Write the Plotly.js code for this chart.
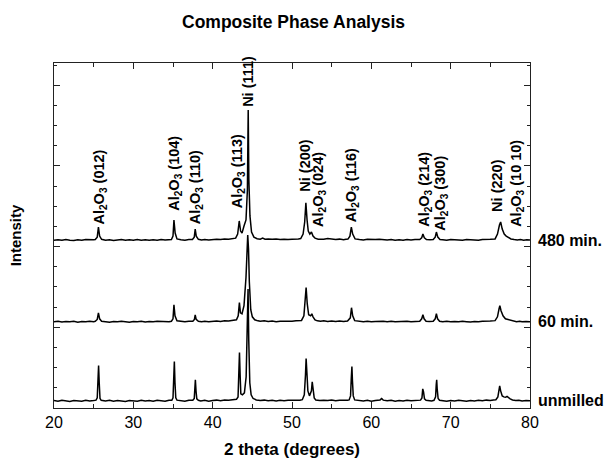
<!DOCTYPE html>
<html>
<head>
<meta charset="utf-8">
<script src="https://cdn.plot.ly/plotly-3.0.1.min.js"></script>
<style>html,body{margin:0;padding:0;background:#fff}#chart{width:609px;height:460px}</style>
</head>
<body>
<div id="chart"></div>
<script>
// 2-theta / relative intensity pairs (intensity above own baseline)
const unmilled = [[20,0.02],[20.5,-0.02],[21,0.03],[21.5,0.0],[22,-0.03],[22.5,0.02],[23,0.01],[23.5,-0.02],[24,0.03],[24.5,0.0],[25,0.02],
[25.3,0.04],[25.45,0.15],[25.55,1.2],[25.62,1.75],[25.7,0.9],[25.8,0.12],[25.95,0.03],
[26.5,0.0],[27,0.03],[27.5,-0.02],[28,0.02],[28.5,0.0],[29,-0.03],[29.5,0.02],[30,0.01],[30.5,-0.02],[31,0.03],[31.5,0.0],[32,0.02],[32.5,-0.02],[33,0.03],[33.5,0.01],[34,-0.01],[34.5,0.03],
[34.85,0.03],[35.0,0.15],[35.1,1.3],[35.17,1.95],[35.25,0.9],[35.35,0.15],[35.5,0.04],
[36,0.01],[36.5,-0.02],[37,0.03],
[37.5,0.03],[37.68,0.12],[37.76,0.7],[37.82,1.05],[37.9,0.5],[38.0,0.1],[38.2,0.03],
[38.5,0.0],[39,0.03],[39.5,-0.01],[40,0.02],[40.5,0.04],[41,0.01],[41.5,0.05],[42,0.03],[42.5,0.06],
[43.0,0.08],[43.2,0.2],[43.32,1.4],[43.38,2.4],[43.46,1.3],[43.55,0.35],[43.75,0.3],[44.0,0.4],[44.22,1.2],[44.36,3.5],[44.46,5.55],[44.55,3.0],[44.68,0.9],[44.85,0.3],[45.1,0.12],[45.5,0.05],
[46,0.02],[46.5,0.04],[47,0.01],[47.5,0.03],[48,0.0],[48.5,0.03],[49,0.01],[49.5,0.03],[50,0.02],[50.5,0.04],[51,0.03],
[51.3,0.06],[51.55,0.3],[51.7,1.3],[51.78,2.1],[51.88,1.4],[52.0,0.5],[52.2,0.25],[52.45,0.5],[52.55,0.95],[52.65,0.6],[52.8,0.15],[53.0,0.05],
[53.5,0.02],[54,0.04],[54.5,0.02],[55,0.05],[55.5,0.01],[56,0.03],[56.5,0.02],[57,0.04],
[57.2,0.05],[57.38,0.25],[57.47,1.1],[57.55,1.7],[57.62,1.0],[57.72,0.25],[57.9,0.05],
[58.5,0.02],[59,0.0],[59.5,0.03],[60,-0.01],[60.5,0.02],[61.1,0.05],[61.3,0.12],[61.5,0.04],[62,0.01],[62.5,0.03],[63,-0.01],[63.5,0.02],[64,0.0],[64.5,0.03],[65,0.01],[65.5,0.02],[66,0.04],
[66.2,0.04],[66.38,0.15],[66.48,0.6],[66.58,0.45],[66.7,0.1],[66.9,0.03],
[67.3,0.02],[67.6,0.0],
[67.9,0.03],[68.1,0.2],[68.18,0.8],[68.24,1.05],[68.3,0.6],[68.42,0.12],[68.6,0.03],
[69,0.02],[69.5,-0.01],[70,0.02],[70.5,0.0],[71,0.03],[71.5,0.01],[72,-0.02],[72.5,0.02],[73,0.0],[73.5,0.03],[74,0.01],[74.5,0.04],[75,0.02],[75.4,0.05],
[75.7,0.06],[75.95,0.2],[76.1,0.6],[76.18,0.75],[76.3,0.5],[76.5,0.25],[76.7,0.2],[76.9,0.18],[77.1,0.22],[77.3,0.15],[77.5,0.1],[77.8,0.05],
[78.2,0.02],[78.6,0.03],[79,0.0],[79.5,0.02],[80,0.01]];

const min60 = [[20,0.01],[20.5,0.03],[21,-0.01],[21.5,0.02],[22,0.0],[22.5,0.03],[23,-0.02],[23.5,0.02],[24,0.0],[24.5,0.03],[25,0.01],
[25.2,0.03],[25.45,0.12],[25.6,0.45],[25.75,0.15],[26.0,0.03],
[26.5,0.01],[27,-0.02],[27.5,0.02],[28,0.0],[28.5,0.03],[29,0.01],[29.5,-0.02],[30,0.02],[30.5,0.0],[31,0.03],[31.5,-0.01],[32,0.02],[32.5,0.0],[33,0.03],[33.5,0.01],[34,0.02],[34.5,0.0],
[34.8,0.03],[35.0,0.15],[35.12,0.85],[35.25,0.3],[35.5,0.05],
[36,0.02],[36.5,0.0],[37,0.03],
[37.5,0.03],[37.7,0.12],[37.8,0.35],[37.92,0.12],[38.2,0.03],
[38.6,0.01],[39,0.03],[39.5,0.0],[40,0.02],[40.5,0.04],[41,0.02],[41.5,0.05],[42,0.04],[42.5,0.07],
[43.0,0.1],[43.22,0.3],[43.37,0.95],[43.5,0.45],[43.7,0.4],[43.95,0.8],[44.2,2.2],[44.42,4.3],[44.52,3.6],[44.62,2.0],[44.8,0.6],[45.0,0.25],[45.3,0.1],[45.7,0.05],
[46,0.03],[46.5,0.05],[47,0.02],[47.5,0.04],[48,0.01],[48.5,0.03],[49,0.02],[49.5,0.04],[50,0.03],[50.5,0.05],[51,0.05],
[51.2,0.07],[51.5,0.3],[51.68,1.1],[51.78,1.7],[51.92,0.9],[52.1,0.35],[52.35,0.3],[52.5,0.4],[52.65,0.25],[52.9,0.1],[53.2,0.05],
[53.6,0.03],[54,0.05],[54.5,0.02],[55,0.04],[55.5,0.02],[56,0.04],[56.5,0.02],[57.0,0.04],
[57.35,0.2],[57.5,0.7],[57.65,0.3],[57.9,0.06],
[58.5,0.03],[59,0.01],[59.5,0.03],[60,0.0],[60.5,0.02],[61,0.04],[61.5,0.03],[62,0.01],[62.5,0.03],[63,0.0],[63.5,0.02],[64,0.01],[64.5,0.03],[65,0.0],[65.5,0.02],[66.1,0.03],
[66.35,0.15],[66.5,0.35],[66.65,0.15],[66.9,0.03],
[67.3,0.02],[67.8,0.03],[68.05,0.15],[68.2,0.4],[68.35,0.15],[68.6,0.03],
[69,0.01],[69.5,0.03],[70,0.0],[70.5,0.02],[71,0.0],[71.5,0.03],[72,0.01],[72.5,-0.01],[73,0.02],[73.5,0.0],[74,0.03],[74.5,0.02],[75,0.04],
[75.6,0.06],[75.9,0.25],[76.1,0.65],[76.2,0.8],[76.35,0.55],[76.6,0.3],[76.9,0.15],[77.2,0.12],[77.5,0.07],[77.9,0.03],
[78.3,0.01],[78.7,0.03],[79,0.0],[79.5,0.02],[80,0.01]];

const min480 = [[20,0.0],[20.5,0.02],[21,-0.01],[21.5,0.03],[22,0.0],[22.5,-0.02],[23,0.02],[23.5,0.0],[24,0.03],[24.5,0.01],[25,0.02],
[25.2,0.03],[25.45,0.15],[25.6,0.65],[25.75,0.2],[26.0,0.04],
[26.5,0.0],[27,0.02],[27.5,-0.02],[28,0.01],[28.5,0.03],[29,-0.01],[29.5,0.02],[30,0.0],[30.5,0.03],[31,0.0],[31.5,0.02],[32,-0.01],[32.5,0.02],[33,0.0],[33.5,0.03],[34,0.01],[34.5,0.02],
[34.8,0.03],[35.0,0.2],[35.12,1.0],[35.27,0.35],[35.5,0.06],
[36,0.02],[36.5,0.0],[37,0.03],
[37.45,0.03],[37.68,0.15],[37.8,0.55],[37.93,0.2],[38.2,0.04],
[38.6,0.01],[39,0.03],[39.5,0.01],[40,0.03],[40.5,0.05],[41,0.03],[41.5,0.06],[42,0.05],[42.5,0.07],
[42.9,0.1],[43.15,0.3],[43.35,0.95],[43.52,0.45],[43.7,0.35],[43.95,0.7],[44.2,1.0],[44.38,2.5],[44.48,6.45],[44.56,3.0],[44.7,1.2],[44.9,0.4],[45.2,0.15],[45.6,0.07],
[46,0.05],[46.3,0.1],[46.6,0.05],[47,0.06],[47.5,0.04],[48,0.06],[48.5,0.03],[49,0.05],[49.5,0.03],[50,0.05],[50.5,0.04],[50.8,0.06],
[51.1,0.08],[51.4,0.3],[51.6,0.9],[51.75,1.85],[51.9,1.0],[52.05,0.45],[52.25,0.3],[52.45,0.4],[52.65,0.2],[52.9,0.1],[53.3,0.05],
[53.7,0.03],[54,0.05],[54.5,0.08],[55,0.04],[55.5,0.03],[56,0.05],[56.5,0.02],[56.8,0.04],
[57.05,0.05],[57.3,0.2],[57.48,0.65],[57.65,0.3],[57.95,0.06],
[58.5,0.03],[59,0.01],[59.5,0.04],[60,0.02],[60.5,0.03],[61,0.05],[61.5,0.03],[62,0.01],[62.5,0.03],[63,0.0],[63.5,0.02],[64,0.0],[64.5,0.03],[65,0.01],[65.5,0.03],[66.1,0.03],
[66.35,0.12],[66.5,0.3],[66.68,0.12],[66.95,0.03],
[67.4,0.02],[67.8,0.03],[68.05,0.15],[68.2,0.4],[68.38,0.15],[68.65,0.03],
[69,0.02],[69.5,0.0],[70,0.03],[70.5,0.01],[71,0.02],[71.5,0.0],[72,0.03],[72.5,0.01],[73,0.02],[73.5,0.0],[74,0.03],[74.5,0.02],[75,0.04],
[75.6,0.06],[75.9,0.3],[76.15,0.75],[76.3,0.9],[76.5,0.55],[76.75,0.3],[77.0,0.2],[77.3,0.12],[77.6,0.06],[78.0,0.03],
[78.4,0.01],[78.8,0.03],[79.2,0.0],[79.6,0.02],[80,0.01]];

// series names and vertical offsets used to stack the patterns
const seriesNames = ["unmilled", "60 min.", "480 min."];
const seriesOffsets = [0.35, 4.27, 8.32];

// peak labels: text, 2theta position, label base height
const peakLabels = ["Al<sub>2</sub>O<sub>3</sub> (012)","Al<sub>2</sub>O<sub>3</sub> (104)","Al<sub>2</sub>O<sub>3</sub> (110)","Al<sub>2</sub>O<sub>3</sub> (113)","Ni (111)","Ni (200)","Al<sub>2</sub>O<sub>3</sub> (024)","Al<sub>2</sub>O<sub>3</sub> (116)","Al<sub>2</sub>O<sub>3</sub> (214)","Al<sub>2</sub>O<sub>3</sub> (300)","Ni (220)","Al<sub>2</sub>O<sub>3</sub> (10 10)"];
const peakLabelX = [25.75, 35.25, 38.0, 43.2, 44.45, 51.65, 53.4, 57.55, 66.75, 68.75, 75.85, 78.35];
const peakLabelY = [9.0, 9.7, 9.0, 9.8, 14.85, 10.6, 8.9, 9.1, 8.9, 8.7, 9.6, 8.9];

const FONT = "Liberation Sans, Arial, Helvetica, sans-serif";
const datasets = [unmilled, min60, min480];

const traces = datasets.map((d, i) => ({
  type: "scatter", mode: "lines", name: seriesNames[i],
  x: d.map(p => p[0]),
  y: d.map(p => p[1] + seriesOffsets[i]),
  line: {color: "#000", width: 1.5},
  hoverinfo: "skip", showlegend: false
}));

const annotations = peakLabels.map((t, i) => ({
  text: "<b>" + t + "</b>", x: peakLabelX[i], y: peakLabelY[i], xref: "x", yref: "y",
  textangle: -90, showarrow: false, xanchor: "center", yanchor: "bottom",
  font: {family: FONT, size: 14.5, color: "#000"}
}));

seriesNames.forEach((n, i) => {
  annotations.push({
    text: "<b>" + n + "</b>", x: 1.012, y: seriesOffsets[i], xref: "paper", yref: "y",
    showarrow: false, xanchor: "left", yanchor: "middle",
    font: {family: FONT, size: 16, color: "#000"}
  });
});

const layout = {
  width: 609, height: 460,
  margin: {l: 54, r: 79, t: 63, b: 52},
  paper_bgcolor: "#fff", plot_bgcolor: "#fff",
  title: {text: "<b>Composite Phase Analysis</b>", x: 0.482, xanchor: "center", y: 0.953, yanchor: "middle", yref: "container",
    font: {family: FONT, size: 17.5, color: "#000"}},
  xaxis: {
    range: [20, 80], dtick: 10, tick0: 20, ticks: "inside", ticklen: 6, tickwidth: 1, tickcolor: "#222",
    minor: {dtick: 5, ticks: "inside", ticklen: 4, tickcolor: "#222"},
    showline: true, linecolor: "#222", linewidth: 1, mirror: "allticks", zeroline: false, showgrid: false,
    tickfont: {family: FONT, size: 16, color: "#000"},
    title: {text: "<b>2 theta (degrees)</b>", standoff: 12, font: {family: FONT, size: 17, color: "#000"}}
  },
  yaxis: {
    range: [0, 17.1], dtick: 4, tick0: 0, ticks: "inside", ticklen: 6, tickwidth: 1, tickcolor: "#222",
    minor: {dtick: 1, ticks: "inside", ticklen: 3, tickcolor: "#222"},
    showline: true, linecolor: "#222", linewidth: 1, mirror: "allticks", zeroline: false, showgrid: false,
    showticklabels: false,
    title: {text: "<b>Intensity</b>", standoff: 27, font: {family: FONT, size: 15, color: "#000"}}
  },
  annotations: annotations
};

Plotly.newPlot("chart", traces, layout, {staticPlot: true, displayModeBar: false});
</script>
</body>
</html>
